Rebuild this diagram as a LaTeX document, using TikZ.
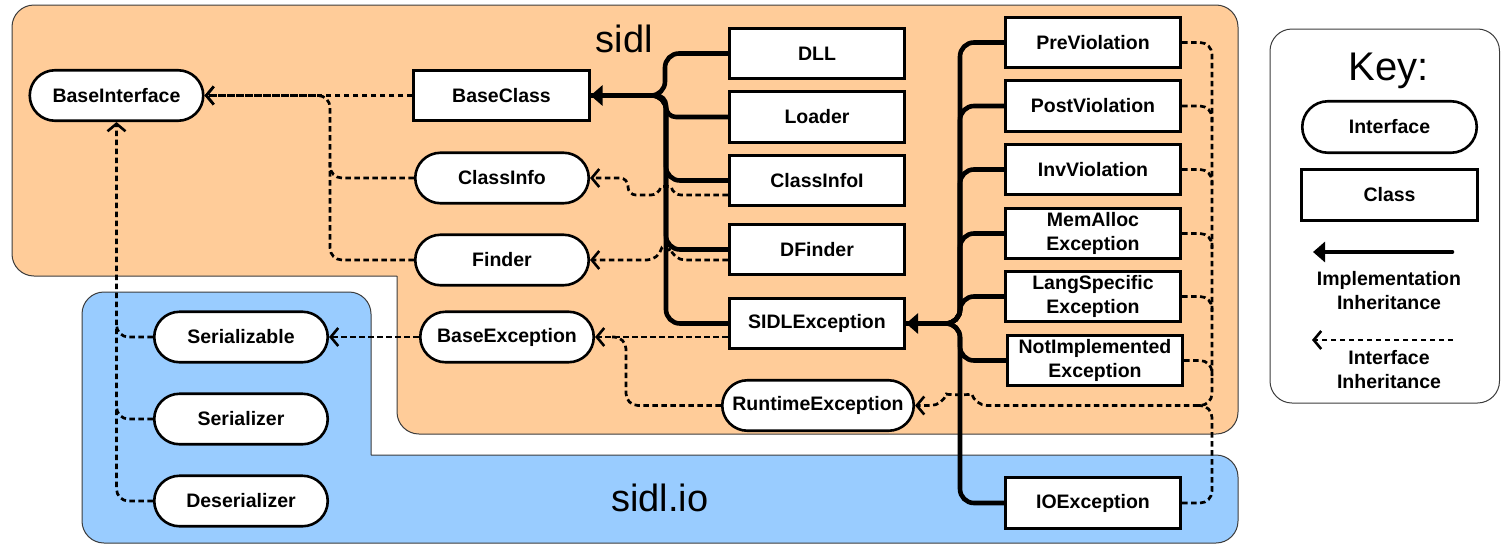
\documentclass[tikz,border=0pt]{standalone}
\usepackage{fontspec}
\setmainfont{Liberation Sans}
\usetikzlibrary{shapes.misc,arrows.meta}
\newcommand\lblfont{\bfseries\fontsize{19.5}{23.5}\selectfont}
\definecolor{sidlorange}{RGB}{255,204,153}
\definecolor{sidlblue}{RGB}{153,204,255}
\definecolor{grpline}{RGB}{60,60,60}
\begin{document}
\begin{tikzpicture}[x=1pt,y=-1pt,
  iface/.style={rounded rectangle, draw=black, fill=white, line width=2.6pt, minimum width=175.5pt, minimum height=50.5pt, inner sep=1pt, font=\lblfont},
  cls/.style={rectangle, draw=black, fill=white, line width=2.6pt, minimum width=175.5pt, minimum height=50.5pt, inner sep=1pt, align=center, font=\lblfont},
  impl/.style={line width=4.6pt, rounded corners=14pt},
  intf/.style={line width=2.7pt, dash pattern=on 5.5pt off 3.5pt, rounded corners=12pt},
  solidhead/.style={-{Triangle[length=12pt,width=20pt]}},
  openhead/.style={-{Straight Barb[length=7.5pt,width=18pt,line width=2.6pt]}},
  grp/.style={draw=grpline, line width=1pt, rounded corners=22pt},
  bigtext/.style={font=\fontsize{38}{44}\selectfont, inner sep=0pt, anchor=base},
  keytext/.style={font=\lblfont, align=center, inner sep=0pt},
]
\useasboundingbox (0,0) rectangle (1501,544);
% ---------- package backgrounds ----------
\fill[sidlorange, rounded corners=22pt] (12,5) rectangle (1238,276);
\fill[sidlorange, rounded corners=22pt] (397,5) rectangle (1238,434);
\draw[grp] (397,276) -- (12,276) -- (12,5) -- (1238,5) -- (1238,434) -- (397,434) -- (397,276);
\fill[sidlblue, rounded corners=22pt] (82,292) rectangle (371,543);
\fill[sidlblue, rounded corners=22pt] (82,455) rectangle (1238,543);
\draw[grp] (371,455) -- (371,292) -- (82,292) -- (82,543) -- (1238,543) -- (1238,455) -- (371,455);
\node[bigtext] (sidl) at (624.5,52) {sidl};
\node[bigtext] (sidlio) at (660,511) {sidl.io};
% ---------- nodes ----------
\node[iface] (bi) at (116.5,95.5) {BaseInterface};
\node[cls]   (bc) at (501.5,95.5) {BaseClass};
\node[iface] (ci) at (502,178) {ClassInfo};
\node[iface] (fi) at (502,260) {Finder};
\node[iface] (be) at (507,337) {BaseException};
\node[iface] (sz) at (241,337) {Serializable};
\node[iface] (sr) at (241,419) {Serializer};
\node[iface] (ds) at (241,501) {Deserializer};
\node[cls] (dll) at (817,53.5) {DLL};
\node[cls] (ld)  at (817,117) {Loader};
\node[cls] (cii) at (817,180.5) {ClassInfoI};
\node[cls] (df)  at (817,249.5) {DFinder};
\node[cls] (se)  at (817,323.5) {SIDLException};
\node[iface, minimum width=193.5pt] (rt) at (818,405.5) {RuntimeException};
\node[cls] (pre)  at (1093,42.5) {PreViolation};
\node[cls] (post) at (1093,106) {PostViolation};
\node[cls] (inv)  at (1093,169.5) {InvViolation};
\node[cls] (mem)  at (1093,233.5) {MemAlloc\\Exception};
\node[cls] (lang) at (1093,296.5) {LangSpecific\\Exception};
\node[cls] (ni)   at (1095,360.5) {NotImplemented\\Exception};
\node[cls] (io)   at (1093,503) {IOException};
% ---------- implementation inheritance ----------
\draw[impl] (dll.west) -- (665,53.5) -- (665,95.5) -- (bc.east);
\draw[impl, rounded corners=10pt] (ld.west) -- (666,117) -- (666,95.5) -- (bc.east);
\draw[impl] (cii.west) -- (666,180.5) -- (666,95.5) -- (bc.east);
\draw[impl] (df.west) -- (666,249.5) -- (666,95.5) -- (bc.east);
\draw[impl, solidhead] (se.west) -- (666,323.5) -- (666,95.5) -- (bc.east);
\draw[impl] (pre.west) -- (960,42.5) -- (960,323.5) -- (se.east);
\draw[impl] (post.west) -- (960,106) -- (960,323.5) -- (se.east);
\draw[impl] (inv.west) -- (960,169.5) -- (960,323.5) -- (se.east);
\draw[impl] (mem.west) -- (960,233.5) -- (960,323.5) -- (se.east);
\draw[impl] (lang.west) -- (960,296.5) -- (960,323.5) -- (se.east);
\draw[impl] (ni.west) -- (960,360.5) -- (960,323.5) -- (se.east);
\draw[impl, solidhead] (io.west) -- (960,503) -- (960,323.5) -- (se.east);
% ---------- interface inheritance ----------
\draw[intf, openhead] (bc.west) -- (bi.east);
\draw[intf, openhead] (fi.west) -- (330,260) -- (330,95.5) -- (bi.east);
\draw[intf] (ci.west) -- (330,178) -- (330,162);
\draw[intf, openhead] (ds.west) -- (116.5,501) -- (bi.south);
\draw[intf] (sz.west) -- (116.5,337) -- (116.5,321);
\draw[intf] (sr.west) -- (116.5,419) -- (116.5,403);
\draw[intf, openhead] (be.west) -- (sz.east);
\draw[intf, openhead] ([yshift=-13.5pt]se.west) -- (be.east);
\draw[intf] (rt.west) -- (626,405.5) -- (626,337) -- (612,337);
\draw[intf, openhead, rounded corners=8pt] ([yshift=-14.5pt]cii.west) -- (673,195)
   .. controls (671,186) and (661,186) .. (659,195) -- (628,195) -- (628,178) -- (ci.east);
\draw[intf, openhead] ([yshift=-10.5pt]df.west) -- (673,260)
   .. controls (671,251) and (661,251) .. (659,260) -- (fi.east);
\draw[intf, openhead] (pre.east) -- (1212,42.5) -- (1212,405.5) -- (975,405.5)
   .. controls (972,395) and (946,395) .. (943,405.5) -- (rt.east);
\draw[intf] (post.east) -- (1212,106) -- (1212,122);
\draw[intf] (inv.east) -- (1212,169.5) -- (1212,185);
\draw[intf] (mem.east) -- (1212,233.5) -- (1212,249);
\draw[intf] (lang.east) -- (1212,296.5) -- (1212,312);
\draw[intf] (ni.east) -- (1212,360.5) -- (1212,376);
\draw[intf] (io.east) -- (1212,503) -- (1212,405.5) -- (1194,405.5);
% ---------- key ----------
\draw[grp, fill=white] (1270,29) rectangle (1499.5,403);
\node[bigtext, font=\fontsize{40}{46}\selectfont] (keyt) at (1389,80) {Key:};
\node[iface, minimum width=176.5pt, minimum height=51.5pt] (kif) at (1389.5,127) {Interface};
\node[cls, minimum width=176.5pt, minimum height=51.5pt] (kcl) at (1389.5,195) {Class};
\coordinate (ka1) at (1452,252);
\coordinate (ka2) at (1313,252);
\draw[line width=4.6pt, line cap=round, solidhead] (ka1) -- (ka2);
\node[keytext] (kt1) at (1389,290.5) {Implementation\\Inheritance};
\coordinate (kb1) at (1453,340);
\coordinate (kb2) at (1312,340);
\draw[intf, openhead] (kb1) -- (kb2);
\node[keytext] (kt2) at (1389,369.5) {Interface\\Inheritance};
\end{tikzpicture}
\end{document}
